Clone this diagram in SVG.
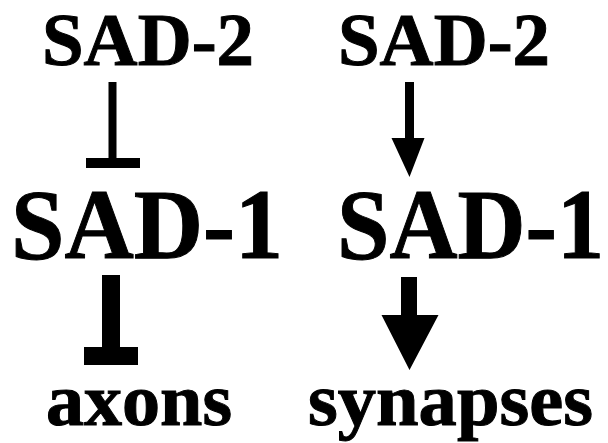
<svg xmlns="http://www.w3.org/2000/svg" width="608" height="443" viewBox="0 0 608 443">
  <style>
    .small { font-size: 74px; }
    .big { font-size: 100px; }
    .conn { fill: #000; stroke: none; }
  </style>
  <rect x="0" y="0" width="608" height="443" fill="#fff"/>

  <!-- left pathway -->
  <g id="sad2-left"><text class="small" font-family="Liberation Serif" font-weight="600" fill="#000" stroke="#000" stroke-width="1" x="42" y="65" textLength="212" lengthAdjust="spacingAndGlyphs">SAD-2</text></g>
  <g id="sad1-left"><text class="big" font-family="Liberation Serif" font-weight="600" fill="#000" stroke="#000" stroke-width="1" x="11" y="258" textLength="272" lengthAdjust="spacingAndGlyphs">SAD-1</text></g>
  <g id="axons"><text class="small" font-family="Liberation Serif" font-weight="600" fill="#000" stroke="#000" stroke-width="1" x="46" y="425" textLength="186" lengthAdjust="spacingAndGlyphs">axons</text></g>

  <!-- right pathway -->
  <g id="sad2-right"><text class="small" font-family="Liberation Serif" font-weight="600" fill="#000" stroke="#000" stroke-width="1" x="338" y="65" textLength="212" lengthAdjust="spacingAndGlyphs">SAD-2</text></g>
  <g id="sad1-right"><text class="big" font-family="Liberation Serif" font-weight="600" fill="#000" stroke="#000" stroke-width="1" x="337" y="258" textLength="267" lengthAdjust="spacingAndGlyphs">SAD-1</text></g>
  <g id="synapses"><text class="small" font-family="Liberation Serif" font-weight="600" fill="#000" stroke="#000" stroke-width="1" x="308" y="425" textLength="285" lengthAdjust="spacingAndGlyphs">synapses</text></g>

  <g id="connectors">
    <!-- SAD-2 inhibits SAD-1 -->
    <path class="conn" d="M108.5 82 H116.5 V158 H140 V168 H86 V158 H108.5 Z"/>
    <!-- SAD-2 activates SAD-1 -->
    <path class="conn" d="M405 82 H414 V138 H424.5 L409.5 177 L391.5 138 H405 Z"/>
    <!-- SAD-1 inhibits axons -->
    <path class="conn" d="M102 275 H120 V347 H138 V365 H84 V347 H102 Z"/>
    <!-- SAD-1 promotes synapses -->
    <path class="conn" d="M401 277 H417 V315 H438.5 L409.5 370 L381.5 315 H401 Z"/>
  </g>
</svg>
